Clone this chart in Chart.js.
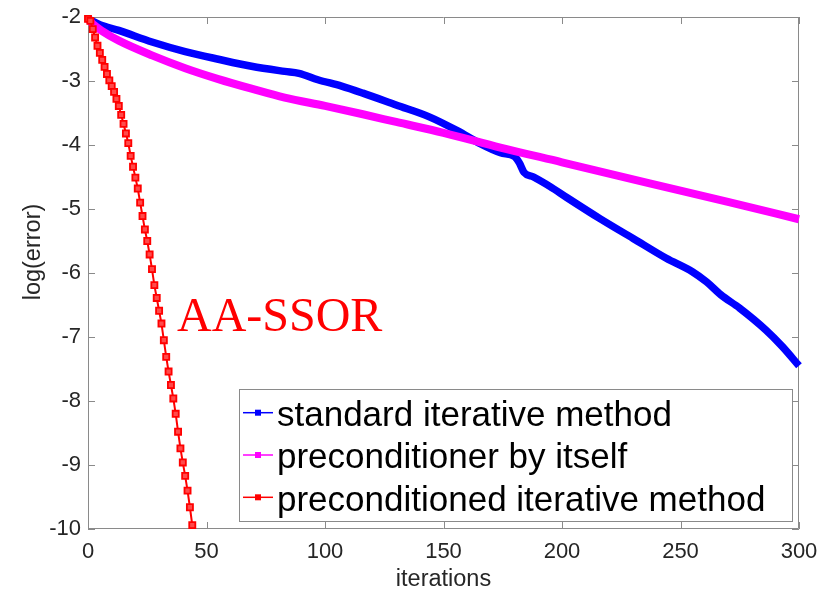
<!DOCTYPE html>
<html><head><meta charset="utf-8">
<script src="https://cdn.jsdelivr.net/npm/chart.js@4.4.1/dist/chart.umd.min.js"></script>
<style>html,body{margin:0;padding:0;background:#fff;}</style>
</head><body>
<canvas id="c" width="821" height="590"></canvas>
<script>
// ---- data ----
const xTickValues = [0, 50, 100, 150, 200, 250, 300];
const yTickValues = [-10, -9, -8, -7, -6, -5, -4, -3, -2];
const seriesNames = ["standard iterative method", "preconditioner by itself", "preconditioned iterative method"];

const standardIter = [0, 5, 13, 27, 41, 55, 69, 83, 89, 97, 107, 116, 130, 144, 156, 165, 174, 180, 182, 184, 188, 195, 202, 216, 230, 244, 255, 261, 267, 275, 286, 293, 300];
const standardErr  = [-2.03, -2.12, -2.21, -2.39, -2.54, -2.66, -2.77, -2.85, -2.88, -2.98, -3.08, -3.19, -3.375, -3.56, -3.78, -3.97, -4.12, -4.18, -4.28, -4.43, -4.50, -4.65, -4.82, -5.15, -5.46, -5.77, -5.98, -6.14, -6.34, -6.55, -6.89, -7.15, -7.45];

const precondIter = [0, 2, 6, 13, 27, 41, 55, 69, 83, 100, 116, 130, 150, 174, 200, 237, 270, 300];
const precondErr  = [-2.03, -2.11, -2.22, -2.37, -2.60, -2.80, -2.97, -3.12, -3.26, -3.39, -3.52, -3.64, -3.81, -4.04, -4.27, -4.60, -4.89, -5.16];

// one value per iteration 0..44
const aaSsorErr = [-2.03, -2.06, -2.19, -2.32, -2.45, -2.56, -2.67, -2.78, -2.89, -2.99, -3.08, -3.17, -3.28, -3.39, -3.53, -3.67, -3.82, -3.97, -4.17, -4.34, -4.51, -4.68, -4.90, -5.11, -5.32, -5.50, -5.71, -5.94, -6.19, -6.39, -6.59, -6.79, -7.05, -7.31, -7.54, -7.75, -7.96, -8.20, -8.48, -8.74, -8.96, -9.17, -9.40, -9.66, -9.94];

const annotationText = "AA-SSOR";
const xTitle = "iterations";
const yTitle = "log(error)";

// ---- build ----
const colors = ["#0000ff", "#ff00ff", "#ff0000"];
const toXY = (xs, ys) => ys.map((y, i) => ({x: xs[i], y}));

const framePlugin = {
  id: 'frame',
  beforeDatasetsDraw(chart) {
    const {ctx, chartArea: a, scales: {x, y}} = chart;
    ctx.save();
    ctx.strokeStyle = '#8a8a8a';
    ctx.lineWidth = 1;
    ctx.beginPath();
    ctx.rect(a.left + 0.5, a.top + 0.5, a.right - a.left - 1, a.bottom - a.top - 1);
    const tl = 7;
    xTickValues.forEach(v => {
      const px = Math.round(x.getPixelForValue(v)) + 0.5;
      ctx.moveTo(px, a.bottom); ctx.lineTo(px, a.bottom - tl);
      ctx.moveTo(px, a.top); ctx.lineTo(px, a.top + tl);
    });
    yTickValues.forEach(v => {
      const py = Math.round(y.getPixelForValue(v)) + 0.5;
      ctx.moveTo(a.left, py); ctx.lineTo(a.left + tl, py);
      ctx.moveTo(a.right, py); ctx.lineTo(a.right - tl, py);
    });
    ctx.stroke();
    ctx.restore();
  },
  afterDraw(chart) {
    const {ctx, chartArea: a} = chart;
    ctx.save();
    // axis titles
    ctx.fillStyle = '#262626';
    ctx.font = '23.5px "Liberation Sans", Arial, sans-serif';
    ctx.textAlign = 'center';
    ctx.textBaseline = 'alphabetic';
    ctx.fillText(xTitle, (a.left + a.right) / 2, 586);
    ctx.save();
    ctx.translate(34, 252);
    ctx.rotate(-Math.PI / 2);
    ctx.textBaseline = 'middle';
    ctx.fillText(yTitle, 0, 0);
    ctx.restore();
    // annotation
    ctx.fillStyle = '#ff0000';
    ctx.font = '48px "Liberation Serif", "Times New Roman", serif';
    ctx.textAlign = 'left';
    ctx.textBaseline = 'alphabetic';
    ctx.fillText(annotationText, 177, 331);
    // legend
    const L = 239.5, T = 389.5, W = 553, H = 132;
    ctx.fillStyle = '#ffffff';
    ctx.fillRect(L, T, W, H);
    ctx.strokeStyle = '#8a8a8a';
    ctx.lineWidth = 1;
    ctx.strokeRect(L, T, W, H);
    const rowMid = [412.7, 455, 497.3];
    const rowBase = [426, 468.3, 510.6];
    ctx.font = '35px "Liberation Sans", Arial, sans-serif';
    seriesNames.forEach((name, i) => {
      ctx.strokeStyle = colors[i];
      ctx.lineWidth = 1.5;
      ctx.beginPath();
      ctx.moveTo(243, rowMid[i]); ctx.lineTo(273, rowMid[i]);
      ctx.stroke();
      ctx.fillStyle = colors[i];
      ctx.fillRect(255, rowMid[i] - 3, 6, 6);
      ctx.fillStyle = '#000000';
      ctx.fillText(name, 277, rowBase[i]);
    });
    ctx.restore();
  }
};

new Chart(document.getElementById('c'), {
  type: 'line',
  data: {
    datasets: [
      {
        label: seriesNames[0], data: toXY(standardIter, standardErr),
        borderColor: colors[0], borderWidth: 7.5, pointRadius: 0,
        cubicInterpolationMode: 'monotone', order: 2, clip: false,
        borderJoinStyle: 'round'
      },
      {
        label: seriesNames[1], data: toXY(precondIter, precondErr),
        borderColor: colors[1], borderWidth: 8, pointRadius: 0,
        cubicInterpolationMode: 'monotone', order: 1, clip: false,
        borderJoinStyle: 'round'
      },
      {
        label: seriesNames[2], data: aaSsorErr.map((v, i) => ({x: i, y: v})),
        borderColor: colors[2], borderWidth: 2, tension: 0,
        pointStyle: 'rect', pointRadius: 4.3, pointBorderWidth: 1.8,
        pointBorderColor: colors[2], pointBackgroundColor: '#ff4a4a',
        order: 0, clip: false
      }
    ]
  },
  options: {
    responsive: false,
    animation: false,
    devicePixelRatio: 1,
    layout: {padding: {left: 0, top: 17, right: 22, bottom: 0}},
    plugins: {legend: {display: false}, tooltip: {enabled: false}},
    scales: {
      x: {
        type: 'linear', min: 0, max: 300,
        grid: {display: false, drawTicks: false},
        border: {display: false},
        ticks: {
          stepSize: 50, autoSkip: false, maxRotation: 0, padding: 10,
          color: '#262626', font: {family: '"Liberation Sans", Arial, sans-serif', size: 22},
          callback: v => String(v)
        },
        afterFit: s => { s.height = 61; s.paddingLeft = 0; s.paddingRight = 0; }
      },
      y: {
        type: 'linear', min: -10, max: -2,
        grid: {display: false, drawTicks: false},
        border: {display: false},
        ticks: {
          stepSize: 1, autoSkip: false, padding: 7,
          color: '#262626', font: {family: '"Liberation Sans", Arial, sans-serif', size: 22},
          callback: v => String(v)
        },
        afterFit: s => { s.width = 88; s.paddingTop = 0; s.paddingBottom = 0; }
      }
    }
  },
  plugins: [framePlugin]
});
</script>
</body></html>
